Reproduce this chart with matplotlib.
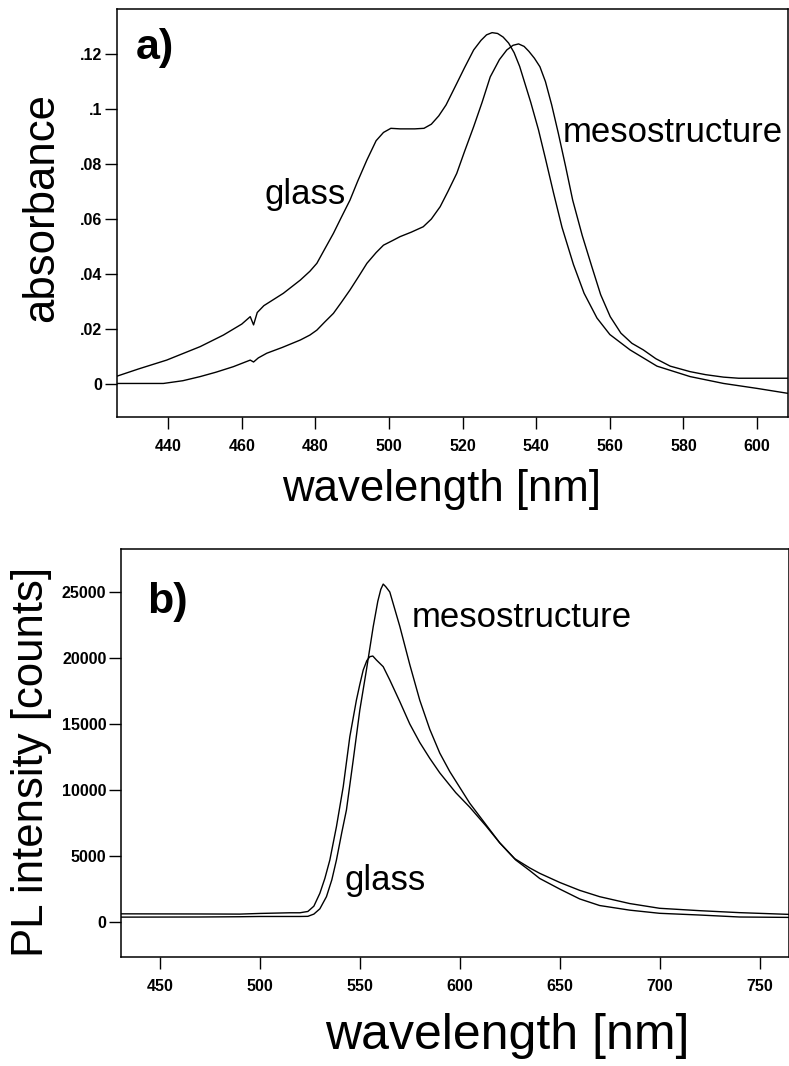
import matplotlib
matplotlib.use('Agg')
import matplotlib.pyplot as plt

plt.rcParams['font.family'] = ['Liberation Sans', 'DejaVu Sans']

# a) absorbance spectra
abs_glass_nm = [426.2, 432, 439.6, 448.7, 455, 460, 462.3, 463.2, 464.2, 466, 471.3, 475.9, 478.5,
                480.4, 482.5, 484.9, 487, 489.4, 491.5, 494, 496.5, 498.5, 500.5, 503, 507, 509.5,
                511.5, 513.5, 515.5, 518.4, 520.5, 523, 525, 526.5, 528, 529.5, 531, 532.5, 534,
                535.5, 537, 538.5, 540.6, 542.5, 544.7, 547, 550.1, 553, 556.5, 560, 565.5, 572.8,
                581.8, 590.9, 600, 608.4]
abs_glass = [0.0029, 0.0055, 0.0087, 0.0136, 0.0178, 0.0218, 0.0245, 0.0215, 0.026, 0.0285, 0.033,
             0.0378, 0.041, 0.0439, 0.049, 0.0548, 0.0605, 0.0669, 0.0738, 0.0815, 0.0885, 0.0915,
             0.093, 0.0928, 0.0928, 0.093, 0.0945, 0.0975, 0.1015, 0.1093, 0.115, 0.1215, 0.125,
             0.127, 0.1278, 0.1275, 0.1262, 0.124, 0.1205, 0.1155, 0.109, 0.1025, 0.0925, 0.082,
             0.0695, 0.057, 0.0435, 0.033, 0.024, 0.018, 0.0124, 0.0065, 0.0027, 0.0002, -0.0016,
             -0.0034]

abs_meso_nm = [426.2, 438.7, 444, 448.7, 453, 457.7, 462.3, 463.2, 464.5, 466.8, 471, 475.9, 478.5,
               480.4, 482.5, 484.9, 487, 489.4, 491.7, 494, 496.5, 498.5, 501, 503, 506, 509.3, 511.5,
               513.9, 516, 518.4, 520.5, 523, 525.3, 527.5, 530, 532, 533.7, 535.2, 536.7, 538,
               539.5, 541, 542.5, 544.2, 546, 548, 549.9, 552.5, 555.1, 557.5, 560.1, 563, 566,
               569.1, 572.5, 576.4, 581.8, 586, 590.9, 595, 600, 608.4]
abs_meso = [0.0002, 0.0002, 0.0012, 0.0027, 0.0043, 0.0063, 0.0087, 0.0080, 0.0095, 0.0112, 0.0133,
            0.016, 0.0178, 0.0196, 0.0225, 0.0257, 0.0296, 0.0342, 0.039, 0.0439, 0.0478, 0.0505,
            0.0522, 0.0536, 0.0552, 0.0572, 0.06, 0.0645, 0.07, 0.0766, 0.0845, 0.0936, 0.1025,
            0.1117, 0.118, 0.1215, 0.1232, 0.1237, 0.1228, 0.121, 0.1185, 0.1154, 0.11, 0.1015,
            0.0912, 0.079, 0.0669, 0.054, 0.0427, 0.0325, 0.0245, 0.0185, 0.0148, 0.0124, 0.0092,
            0.0065, 0.0045, 0.0034, 0.0025, 0.0021, 0.0021, 0.0021]

abs_yticks = [0, 0.02, 0.04, 0.06, 0.08, 0.1, 0.12]
abs_ylabels = ['0', '.02', '.04', '.06', '.08', '.1', '.12']
abs_xticks = [440, 460, 480, 500, 520, 540, 560, 580, 600]

# b) photoluminescence spectra
pl_glass_nm = [430.5, 470, 490, 500, 515, 520, 524, 527, 530, 532.5, 535, 538.3, 541.7, 545, 548.3,
               550, 551.7, 553.5, 555, 556.5, 558.3, 561.7, 565, 570, 575, 580, 585, 590, 598, 605,
               613, 620, 627.5, 635, 640, 650, 660, 670, 685, 700, 720, 740, 764.5]
pl_glass = [620, 610, 600, 650, 700, 700, 800, 1200, 2174, 3300, 4697, 7222, 10253, 14040, 16818,
            18000, 19090, 19800, 20100, 20150, 19850, 19343, 18333, 16700, 15000, 13600, 12400,
            11300, 9800, 8700, 7300, 6000, 4800, 4100, 3690, 3000, 2400, 1920, 1400, 1040, 860, 710,
            580]

pl_meso_nm = [430.5, 470, 490, 500, 520, 524, 527, 530, 533.3, 536, 538.3, 541, 543.3, 546.7, 550,
              553.3, 556.7, 559, 560.5, 561.7, 563, 565, 570, 575, 580, 585, 590, 595, 600, 605,
              613, 620, 628, 635, 640, 650, 660, 670, 685, 700, 720, 740, 764.5]
pl_meso = [370, 380, 400, 420, 420, 430, 600, 1000, 1919, 3200, 4697, 6800, 8485, 12273, 16061,
           19091, 22374, 24300, 25200, 25600, 25400, 25000, 22400, 19500, 16800, 14600, 12800,
           11400, 10200, 9000, 7400, 6000, 4700, 3900, 3300, 2500, 1750, 1250, 900, 660, 530, 380,
           350]

pl_yticks = [0, 5000, 10000, 15000, 20000, 25000]
pl_xticks = [450, 500, 550, 600, 650, 700, 750]

W, H = 789, 1066
fig = plt.figure(figsize=(W / 100, H / 100), dpi=100)


def px(x, y):
    return x / W, 1 - y / H


def style(ax):
    for s in ax.spines.values():
        s.set_linewidth(1.1)
    ax.tick_params(direction='out', length=8.5, width=1.0)
    ax.tick_params(axis='x', pad=7)
    ax.tick_params(axis='y', pad=2)
    for lab in ax.get_xticklabels() + ax.get_yticklabels():
        lab.set_fontweight('bold')
        lab.set_fontsize(11.5)


# panel a
ax1 = fig.add_axes([117 / W, 1 - 417 / H, 671 / W, 408 / H])
ax1.plot(abs_glass_nm, abs_glass, color='black', lw=1.0)
ax1.plot(abs_meso_nm, abs_meso, color='black', lw=1.0)
ax1.set_xlim(426.1, 608.4)
ax1.set_ylim(-0.012, 0.1364)
ax1.set_yticks(abs_yticks)
ax1.set_yticklabels(abs_ylabels)
ax1.set_xticks(abs_xticks)
style(ax1)

# panel b
ax2 = fig.add_axes([121 / W, 1 - 957 / H, 667.5 / W, 408 / H])
ax2.plot(pl_glass_nm, pl_glass, color='black', lw=1.0)
ax2.plot(pl_meso_nm, pl_meso, color='black', lw=1.0)
ax2.set_xlim(430.5, 764.5)
ax2.set_ylim(-2650, 28258)
ax2.set_yticks(pl_yticks)
ax2.set_xticks(pl_xticks)
style(ax2)

# labels
fig.text(*px(42, 207), 'absorbance', rotation=90, ha='center', va='center', fontsize=31.5)
fig.text(*px(442, 490), 'wavelength [nm]', ha='center', va='center', fontsize=31.5)
fig.text(*px(32, 762), 'PL intensity [counts]', rotation=90, ha='center', va='center', fontsize=31.5)
fig.text(*px(507, 1036), 'wavelength [nm]', ha='center', va='center', fontsize=36)

fig.text(*px(136, 59), 'a)', ha='left', va='baseline', fontsize=31, fontweight='bold')
fig.text(*px(147, 613), 'b)', ha='left', va='baseline', fontsize=31, fontweight='bold')

fig.text(*px(265, 204), 'glass', ha='left', va='baseline', fontsize=25)
fig.text(*px(563, 142), 'mesostructure', ha='left', va='baseline', fontsize=25)
fig.text(*px(412, 627), 'mesostructure', ha='left', va='baseline', fontsize=25)
fig.text(*px(345, 890), 'glass', ha='left', va='baseline', fontsize=25)

fig.savefig('out.png', dpi=100)
